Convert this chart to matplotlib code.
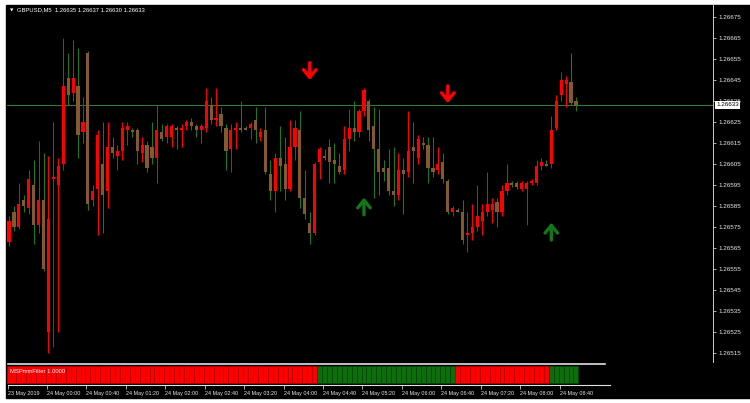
import matplotlib
matplotlib.use("Agg")
import matplotlib.pyplot as plt
from matplotlib.patches import Rectangle
from matplotlib.lines import Line2D

# ---- data (GBPUSD, M5) ----
opens = [
    1.26568, 1.26582, 1.26575, 1.26588, 1.26584, 1.26595, 1.26576, 1.26588, 1.26525, 1.26598,
    1.26595, 1.26605, 1.26646, 1.26639, 1.26642, 1.26620, 1.26658, 1.26588, 1.26593, 1.26605,
    1.26592, 1.26613, 1.26609, 1.26611, 1.26621, 1.26621, 1.26621, 1.26610, 1.26614, 1.26613,
    1.26608, 1.26620, 1.26618, 1.26618, 1.26622, 1.26621, 1.26623, 1.26625, 1.26623, 1.26621,
    1.26622, 1.26633, 1.26626, 1.26629, 1.26622, 1.26612, 1.26621, 1.26622, 1.26622, 1.26622,
    1.26626, 1.26618, 1.26621, 1.26600, 1.26592, 1.26608, 1.26605, 1.26593, 1.26613, 1.26621,
    1.26589, 1.26577, 1.26572, 1.26606, 1.26609, 1.26613, 1.26607, 1.26604, 1.26602, 1.26617,
    1.26622, 1.26620, 1.26630, 1.26635, 1.26623, 1.26612, 1.26603, 1.26603, 1.26592, 1.26590,
    1.26602, 1.26601, 1.26613, 1.26608, 1.26615, 1.26614, 1.26603, 1.26602, 1.26606, 1.26597,
    1.26582, 1.26583, 1.26582, 1.26571, 1.26572, 1.26575, 1.26578, 1.26582, 1.26583, 1.26587,
    1.26582, 1.26592, 1.26596, 1.26596, 1.26593, 1.26593, 1.26596, 1.26596, 1.26604, 1.26605,
    1.26605, 1.26622, 1.26638, 1.26643, 1.26644, 1.26635]
highs = [
    1.26580, 1.26585, 1.26596, 1.26590, 1.26602, 1.26607, 1.26616, 1.26610, 1.26609, 1.26625,
    1.26608, 1.26665, 1.26658, 1.26664, 1.26660, 1.26637, 1.26659, 1.26595, 1.26621, 1.26625,
    1.26625, 1.26618, 1.26614, 1.26625, 1.26625, 1.26622, 1.26622, 1.26618, 1.26616, 1.26625,
    1.26633, 1.26624, 1.26624, 1.26624, 1.26623, 1.26624, 1.26626, 1.26627, 1.26624, 1.26624,
    1.26641, 1.26637, 1.26641, 1.26632, 1.26624, 1.26624, 1.26625, 1.26635, 1.26623, 1.26625,
    1.26632, 1.26622, 1.26632, 1.26607, 1.26610, 1.26623, 1.26618, 1.26626, 1.26626, 1.26630,
    1.26602, 1.26582, 1.26606, 1.26613, 1.26612, 1.26617, 1.26615, 1.26610, 1.26623, 1.26631,
    1.26635, 1.26631, 1.26641, 1.26636, 1.26632, 1.26631, 1.26607, 1.26612, 1.26613, 1.26610,
    1.26608, 1.26630, 1.26625, 1.26619, 1.26618, 1.26618, 1.26618, 1.26613, 1.26610, 1.26598,
    1.26585, 1.26584, 1.26588, 1.26582, 1.26586, 1.26595, 1.26586, 1.26601, 1.26589, 1.26589,
    1.26595, 1.26605, 1.26597, 1.26597, 1.26597, 1.26597, 1.26598, 1.26607, 1.26608, 1.26607,
    1.26628, 1.26638, 1.26649, 1.26647, 1.26658, 1.26637]
lows = [
    1.26566, 1.26573, 1.26574, 1.26582, 1.26581, 1.26567, 1.26572, 1.26554, 1.26515, 1.26518,
    1.26525, 1.26602, 1.26633, 1.26635, 1.26608, 1.26615, 1.26583, 1.26585, 1.26571, 1.26572,
    1.26584, 1.26608, 1.26602, 1.26607, 1.26614, 1.26618, 1.26605, 1.26606, 1.26601, 1.26605,
    1.26596, 1.26616, 1.26615, 1.26613, 1.26612, 1.26613, 1.26621, 1.26621, 1.26618, 1.26615,
    1.26620, 1.26624, 1.26623, 1.26620, 1.26602, 1.26601, 1.26612, 1.26620, 1.26621, 1.26617,
    1.26615, 1.26616, 1.26600, 1.26588, 1.26582, 1.26592, 1.26588, 1.26592, 1.26607, 1.26584,
    1.26579, 1.26567, 1.26571, 1.26598, 1.26607, 1.26596, 1.26596, 1.26600, 1.26600, 1.26611,
    1.26616, 1.26618, 1.26628, 1.26616, 1.26589, 1.26590, 1.26597, 1.26590, 1.26585, 1.26588,
    1.26581, 1.26599, 1.26596, 1.26605, 1.26612, 1.26596, 1.26599, 1.26600, 1.26596, 1.26581,
    1.26580, 1.26582, 1.26567, 1.26563, 1.26569, 1.26573, 1.26571, 1.26580, 1.26577, 1.26575,
    1.26580, 1.26590, 1.26594, 1.26593, 1.26592, 1.26576, 1.26595, 1.26595, 1.26602, 1.26604,
    1.26603, 1.26621, 1.26635, 1.26632, 1.26633, 1.26630]
closes = [
    1.26578, 1.26575, 1.26586, 1.26585, 1.26598, 1.26576, 1.26588, 1.26555, 1.26579, 1.26599,
    1.26604, 1.26642, 1.26638, 1.26646, 1.26619, 1.26625, 1.26586, 1.26592, 1.26619, 1.26590,
    1.26613, 1.26610, 1.26611, 1.26622, 1.26623, 1.26620, 1.26611, 1.26614, 1.26603, 1.26608,
    1.26621, 1.26617, 1.26623, 1.26623, 1.26621, 1.26622, 1.26625, 1.26623, 1.26621, 1.26623,
    1.26635, 1.26626, 1.26627, 1.26623, 1.26611, 1.26621, 1.26622, 1.26621, 1.26621, 1.26624,
    1.26621, 1.26620, 1.26601, 1.26592, 1.26608, 1.26604, 1.26593, 1.26613, 1.26622, 1.26589,
    1.26581, 1.26572, 1.26605, 1.26612, 1.26608, 1.26606, 1.26605, 1.26601, 1.26617, 1.26622,
    1.26620, 1.26630, 1.26640, 1.26621, 1.26612, 1.26601, 1.26601, 1.26592, 1.26590, 1.26602,
    1.26600, 1.26611, 1.26611, 1.26617, 1.26614, 1.26603, 1.26601, 1.26605, 1.26598, 1.26582,
    1.26584, 1.26582, 1.26569, 1.26572, 1.26575, 1.26580, 1.26582, 1.26586, 1.26586, 1.26582,
    1.26592, 1.26596, 1.26595, 1.26594, 1.26596, 1.26596, 1.26597, 1.26604, 1.26606, 1.26604,
    1.26621, 1.26635, 1.26645, 1.26645, 1.26634, 1.26633]

# filter histogram: R = red, G = green (one char per bar)
filter_state = (
    "RRRRRRRRRRRRRRRRRRRRRRRRRRRRRRRRRRRRRRRRRRRRRRRRRRRRRRRRRRRRRRR"
    "GGGGGGGGGGGGGGGGGGGGGGGGGGGG"
    "RRRRRRRRRRRRRRRRRRR"
    "GGGGGG")

# signal arrows (bar index, price)
down_idx = [61, 89]
down_price = [1.26649, 1.26638]
up_idx = [72, 110]
up_price = [1.26585, 1.26573]

last_price = 1.26633
price_ticks = [1.26515, 1.26525, 1.26535, 1.26545, 1.26555, 1.26565, 1.26575, 1.26585,
               1.26595, 1.26605, 1.26615, 1.26625, 1.26635, 1.26645, 1.26655, 1.26665, 1.26675]
time_idx = [0, 8, 16, 24, 32, 40, 48, 56, 64, 72, 80, 88, 96, 104, 112]
time_labels = ["23 May 2019", "24 May 00:00", "24 May 00:40", "24 May 01:20", "24 May 02:00",
               "24 May 02:40", "24 May 03:20", "24 May 04:00", "24 May 04:40", "24 May 05:20",
               "24 May 06:00", "24 May 06:40", "24 May 07:20", "24 May 08:00", "24 May 08:40"]

# ---- layout (pixel based) ----
W, H = 750, 403
plt.rcParams["font.family"] = ["Liberation Sans", "DejaVu Sans"]


def box(x0, y0, x1, y1):
    return [x0 / W, 1 - y1 / H, (x1 - x0) / W, (y1 - y0) / H]


fig = plt.figure(figsize=(7.5, 4.03), dpi=100, facecolor="white")
fig.add_artist(Rectangle((6 / W, 1 - 398 / H), (W - 6) / W, 393 / H,
                         transform=fig.transFigure, color="black", zorder=-5))

XMIN, XMAX = -0.41, 142.8
ax = fig.add_axes(box(7, 5, 713, 362))
ax.set_facecolor("black")
ax.set_xlim(XMIN, XMAX)
ax.set_ylim(1.265107, 1.266807)
for s in ["top", "left", "bottom"]:
    ax.spines[s].set_visible(False)
ax.spines["right"].set_color("#c8c8c8")
ax.spines["right"].set_linewidth(0.7)
ax.set_xticks([])
ax.yaxis.tick_right()
ax.set_yticks(price_ticks)
ax.set_yticklabels(["%.5f" % p for p in price_ticks])
ax.tick_params(axis="y", colors="#c8c8c8", labelcolor="#e8e8e8", labelsize=4.5,
               length=2.2, width=0.6, pad=1.5)

bull = "#ff0000"
bear_body = "#85592f"
bear_wick = "#1c7a1c"

# current price line
ax.axhline(last_price, color="#357a35", lw=0.8, zorder=1)

for i in range(len(opens)):
    o, h, l, c = opens[i], highs[i], lows[i], closes[i]
    up = c > o
    wick_col = bull if up else bear_wick
    body_col = bull if up else bear_body
    ax.vlines(i, l, h, colors=wick_col, lw=0.75, zorder=2)
    ax.bar(i, max(abs(c - o), 0.000005), bottom=min(o, c), width=0.64,
           color=body_col, edgecolor="none", zorder=3)

# arrows
for i, p in zip(down_idx, down_price):
    ax.annotate("", xy=(i, p - 0.000040), xytext=(i, p + 0.000042),
                arrowprops=dict(arrowstyle="->,head_length=0.55,head_width=0.45",
                                lw=2.4, color="#ff0000", shrinkA=0, shrinkB=0))
for i, p in zip(up_idx, up_price):
    ax.annotate("", xy=(i, p + 0.000040), xytext=(i, p - 0.000042),
                arrowprops=dict(arrowstyle="->,head_length=0.55,head_width=0.45",
                                lw=2.4, color="#11781a", shrinkA=0, shrinkB=0))

# header text
fig.text(10 / W, 1 - 10 / H, "\u25bc", color="white", fontsize=3.2, va="center",
         family="DejaVu Sans")
fig.text(17 / W, 1 - 10 / H, "GBPUSD,M5  1.26635 1.26637 1.26630 1.26633",
         color="white", fontsize=4.2, va="center")

# last price label
fig.text(716 / W, 1 - 105 / H, "%.5f" % last_price, color="black", fontsize=4.5,
         va="center", ha="left",
         bbox=dict(boxstyle="square,pad=0.2", fc="white", ec="none"))

# ---- indicator pane ----
axi = fig.add_axes(box(7, 365, 713, 385))
axi.set_facecolor("black")
axi.set_xlim(XMIN, XMAX)
axi.set_ylim(0, 1)
for s in axi.spines.values():
    s.set_visible(False)
axi.set_yticks([])
for i, st in enumerate(filter_state):
    fc = "#ff0000" if st == "R" else "#0c6f0c"
    ec = "#b30000" if st == "R" else "#064406"
    axi.bar(i, 0.85, bottom=0.1, width=1.0, color=fc, edgecolor=ec, lw=0.5)
fig.text(10 / W, 1 - 371.5 / H, "MSPmmFilter 1.0000", color="white", fontsize=4.2,
         va="center", ha="left")

axi.set_xticks([t - 0.3 for t in time_idx])
axi.set_xticklabels(time_labels)
axi.tick_params(axis="x", colors="#c8c8c8", labelcolor="#e8e8e8", labelsize=3.9,
                length=3, width=0.6, pad=1.2)
for lab in axi.get_xticklabels():
    lab.set_horizontalalignment("left")

fig.add_artist(Line2D([8 / W, 605 / W], [1 - 364 / H] * 2, color="#e0e0e0", lw=1.2,
                      transform=fig.transFigure))
fig.add_artist(Line2D([8 / W, 610 / W], [1 - 385 / H] * 2, color="#e0e0e0", lw=0.8,
                      transform=fig.transFigure))

fig.savefig("out.png", dpi=100, facecolor=fig.get_facecolor())
